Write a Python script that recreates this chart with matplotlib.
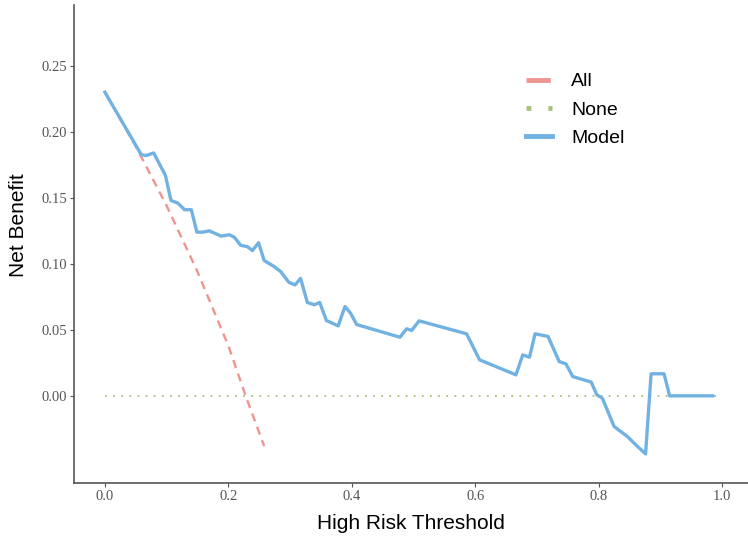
import matplotlib
matplotlib.use("Agg")
import matplotlib.pyplot as plt

# decision curve, values
model_x = [0.0, 0.059, 0.067, 0.079, 0.098, 0.107, 0.118, 0.129, 0.140, 0.149,
           0.159, 0.169, 0.188, 0.202, 0.210, 0.220, 0.231, 0.239, 0.249, 0.258,
           0.274, 0.285, 0.298, 0.308, 0.317, 0.328, 0.339, 0.348, 0.359, 0.378,
           0.389, 0.398, 0.408, 0.478, 0.489, 0.497, 0.509, 0.586, 0.607, 0.666,
           0.677, 0.688, 0.697, 0.718, 0.736, 0.747, 0.758, 0.788, 0.797, 0.806,
           0.825, 0.847, 0.860, 0.876, 0.885, 0.906, 0.915, 0.985]
model_y = [0.230, 0.1826, 0.182, 0.184, 0.167, 0.148, 0.146, 0.141, 0.141, 0.124,
           0.124, 0.125, 0.121, 0.122, 0.120, 0.114, 0.113, 0.110, 0.116, 0.1025,
           0.098, 0.094, 0.086, 0.084, 0.089, 0.0707, 0.069, 0.0707, 0.057, 0.053,
           0.0677, 0.0626, 0.054, 0.0444, 0.0508, 0.0495, 0.0568, 0.047, 0.0273, 0.0159,
           0.031, 0.0293, 0.047, 0.045, 0.026, 0.0242, 0.0146, 0.0104, 0.0008, -0.0018,
           -0.0232, -0.031, -0.037, -0.044, 0.0167, 0.0167, 0.0, 0.0]

all_x = [0.0, 0.05, 0.10, 0.15, 0.20, 0.228, 0.258]
all_y = [0.230, 0.189, 0.144, 0.094, 0.038, 0.0, -0.038]

none_x = [0.0, 0.99]
none_y = [0.0, 0.0]

xticks = [0.0, 0.2, 0.4, 0.6, 0.8, 1.0]
yticks = [0.00, 0.05, 0.10, 0.15, 0.20, 0.25]

fig = plt.figure(figsize=(7.48, 5.37), dpi=100)
ax = fig.add_axes([0.099, 0.1006, 0.901, 0.89])

ax.plot(all_x, all_y, color="#ee9491", lw=1.7, dashes=(3.5, 2.5), label="All")
ax.plot(none_x, none_y, color="#a8c27c", lw=1.3, dashes=(1, 3.5), label="None")
ax.plot(model_x, model_y, color="#72b2e2", lw=2.4, label="Model")

ax.set_xlim(-0.050, 1.042)
ax.set_ylim(-0.066, 0.296)
ax.set_xticks(xticks)
ax.set_yticks(yticks)
ax.set_xticklabels([f"{t:.1f}" for t in xticks])
ax.set_yticklabels([f"{t:.2f}" for t in yticks])

for lab in ax.get_xticklabels() + ax.get_yticklabels():
    lab.set_fontfamily("Liberation Serif")
    lab.set_fontsize(10.5)
    lab.set_color("#555555")
ax.tick_params(length=3, width=0.8, color="#555555", pad=2)

for s in ["top", "right"]:
    ax.spines[s].set_visible(False)
for s in ["left", "bottom"]:
    ax.spines[s].set_color("#555555")
    ax.spines[s].set_linewidth(1.2)

ax.set_xlabel("High Risk Threshold", fontfamily="Liberation Sans", fontsize=15, labelpad=8)
ax.set_ylabel("Net Benefit", fontfamily="Liberation Sans", fontsize=15)
ax.yaxis.set_label_coords(-0.068, 0.54)

leg = ax.legend(loc="upper left", bbox_to_anchor=(0.645, 0.895), frameon=False,
                prop={"family": "Liberation Sans", "size": 14},
                handlelength=1.3, handletextpad=1.0, labelspacing=0.55)
for h in leg.get_lines():
    h.set_linewidth(3.5)
leg.get_lines()[0].set_dashes((5, 2))

fig.savefig("out.png", dpi=100)
